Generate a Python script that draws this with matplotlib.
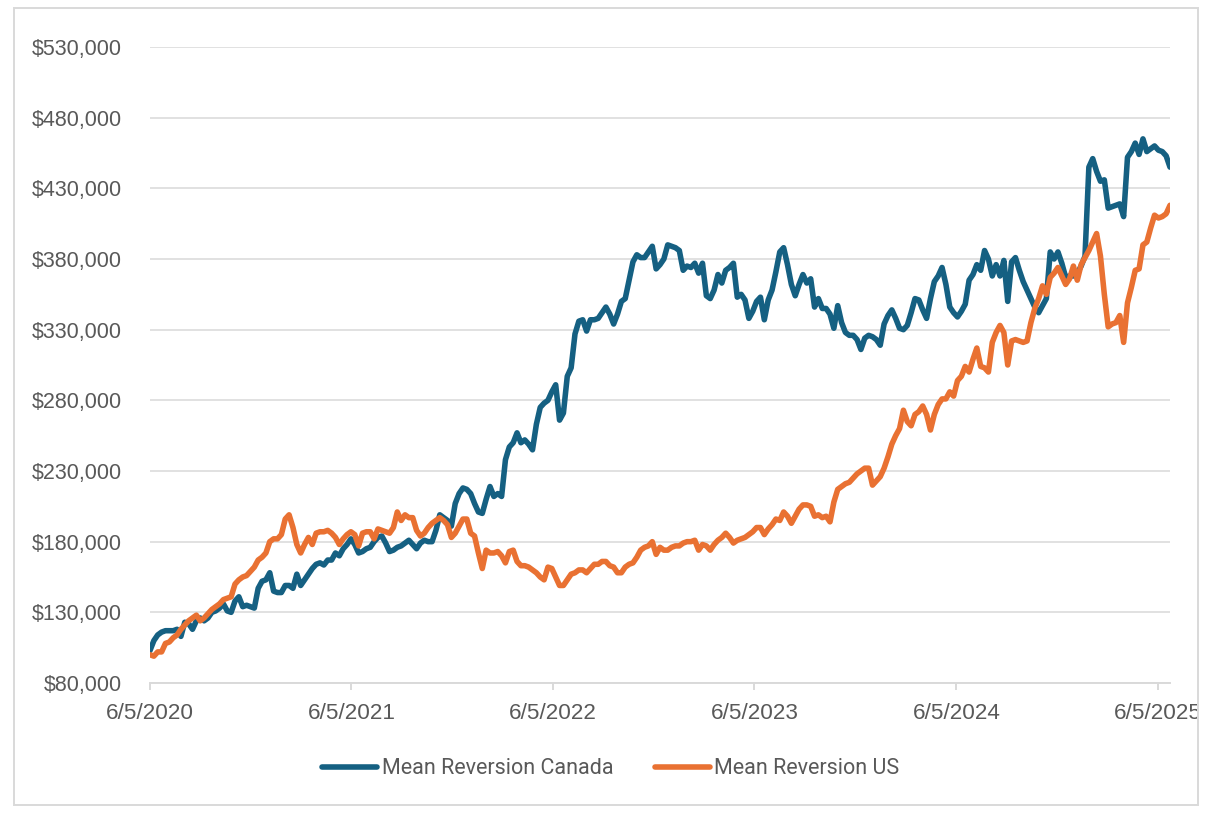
import matplotlib
matplotlib.use("Agg")
import matplotlib.pyplot as plt
from matplotlib.patches import Rectangle
from matplotlib.ticker import FuncFormatter
from matplotlib.transforms import Bbox, TransformedBbox
import pandas as pd
import numpy as np

# ---- data (weekly values, in thousands of dollars) ----
start_date = "2020-06-05"
series_names = ["Mean Reversion Canada", "Mean Reversion US"]

canada_k = [
    103, 110, 114, 116, 117, 117, 117, 118, 113, 123,
    122, 118, 124, 126, 124, 126, 130, 131, 133, 136,
    131, 130, 138, 141, 134, 135, 134, 133, 147, 152,
    153, 158, 145, 144, 144, 149, 149, 147, 157, 149,
    153, 157, 161, 164, 165, 163.5, 167, 167, 172, 170,
    175, 178, 182, 178, 172, 173, 175, 176, 180, 183,
    184, 179, 173, 174, 176, 177, 179, 181, 178, 175,
    179, 181, 180, 180, 188, 199, 197, 195, 191, 207,
    214, 218, 217, 214, 207, 201, 200, 210, 219, 212,
    214, 212, 238, 247, 250, 257, 250, 252, 249, 245,
    263, 275, 278, 280, 286, 291, 266, 271, 297, 303,
    327, 336, 337, 329, 337, 337, 338, 342, 346, 341,
    334, 341, 350, 352, 365, 378, 383, 381, 381, 385,
    389, 373, 376, 380, 390, 389, 388, 386, 372, 375,
    374, 377, 370, 377, 354, 352, 358, 369, 363, 372,
    374, 377, 353, 355, 351, 338, 343, 350, 353, 337,
    351, 358, 371, 385, 388, 376, 362, 354, 362, 369,
    363, 366, 346, 352, 345, 345, 341, 331, 347, 335,
    328, 326, 326, 323, 316, 324, 326, 325, 323, 319,
    334, 340, 344, 338, 331, 330, 333, 342, 352, 351,
    344, 338, 352, 364, 368, 374, 362, 346, 342, 339,
    343, 348, 365, 369, 376, 372, 386, 380, 368, 376,
    368, 379, 350, 378, 381, 372, 364, 358, 352, 346,
    342, 347, 352, 385, 380, 385, 377, 367, 368, 368,
    370, 375, 382, 445, 451, 442, 435, 436, 416, 417,
    418, 419, 410, 452, 456, 462, 454, 465, 456, 458,
    460, 457, 456, 453, 445,
]

us_k = [
    100, 99, 102, 102, 108, 109, 112, 114, 118, 121,
    124, 126, 128, 124, 126, 129, 132, 134, 136, 139,
    140, 141, 150, 153, 155, 156, 159, 162, 167, 169,
    172, 180, 182, 182, 185, 196, 199, 190, 178, 172,
    178, 183, 178, 186, 187, 187, 188, 186, 183, 178,
    182, 185, 187, 185, 177, 186, 187, 187, 182, 189,
    188, 187, 186, 190, 201, 195, 199, 197, 197, 188,
    184, 186, 190, 193, 195, 197, 195, 192, 183, 186,
    191, 196, 196, 186, 184, 172, 161, 174, 172, 172,
    173, 170, 165, 173, 174, 166, 163, 163, 162, 160,
    158, 155, 153, 162, 161, 155, 149, 149, 153, 157,
    158, 160, 160, 158, 161, 164, 164, 166, 166, 163,
    162, 158, 158, 162, 164, 165, 169, 174, 176, 177,
    180, 171, 176, 174, 174, 176, 177, 177, 179, 180,
    180, 181, 174, 178, 177, 174, 178, 181, 183, 186,
    183, 179, 181, 182, 183, 185, 187, 190, 190, 185,
    189, 192, 196, 195, 201, 198, 193, 198, 203, 206,
    206, 205, 198, 199, 197, 198, 194, 208, 217, 219,
    221, 222, 225, 228, 230, 232, 232, 220, 223, 226,
    232, 240, 249, 255, 260, 273, 265, 262, 270, 272,
    276, 270, 259, 270, 277, 281, 281, 286, 283, 294,
    297, 304, 300, 309, 317, 304, 303, 300, 321, 328,
    333, 328, 305, 322, 323, 322, 321, 322, 335, 345,
    352, 361, 355, 367, 370, 374, 368, 362, 366, 375,
    365, 376, 381, 386, 392, 398, 382, 355, 332, 334,
    335, 340, 321, 349, 360, 372, 373, 390, 392, 402,
    411, 409, 410, 412, 418,
]

y_ticks = [80000, 130000, 180000, 230000, 280000, 330000, 380000, 430000, 480000, 530000]
x_tick_dates = ["2020-06-05", "2021-06-05", "2022-06-05", "2023-06-05", "2024-06-05", "2025-06-05"]

# ---- build ----
dates = pd.date_range(start_date, periods=len(canada_k), freq="7D")
canada = np.array(canada_k) * 1000
us = np.array(us_k) * 1000

W, H = 1212, 814
fig = plt.figure(figsize=(W / 100, H / 100), dpi=100)
plt.rcParams["font.family"] = ["Liberation Sans", "DejaVu Sans"]
legend_family = ["Roboto", "Liberation Sans", "DejaVu Sans"]

ax = fig.add_axes([150 / W, 1 - 683 / H, (1170 - 150) / W, (683 - 47) / H])

blue = "#156082"
orange = "#E97132"
grid_c = "#D9D9D9"
text_c = "#595959"

ax.plot(dates, canada, color=blue, lw=4.0, solid_joinstyle="round",
        solid_capstyle="round", label=series_names[0], zorder=3)
ax.plot(dates, us, color=orange, lw=4.0, solid_joinstyle="round",
        solid_capstyle="round", label=series_names[1], zorder=4)

ax.set_ylim(y_ticks[0], y_ticks[-1])
ax.set_yticks(y_ticks)
ax.yaxis.set_major_formatter(FuncFormatter(lambda v, p: f"${int(v):,}"))
ax.set_xlim(dates[0], dates[-1])
xt = pd.to_datetime(x_tick_dates)
ax.set_xticks(xt)
ax.set_xticklabels([f"{d.month}/{d.day}/{d.year}" for d in xt])

ax.grid(axis="y", color=grid_c, lw=1.1, zorder=0)
ax.set_axisbelow(True)
for s in ["left", "top", "right"]:
    ax.spines[s].set_visible(False)
ax.spines["bottom"].set_color(grid_c)
ax.spines["bottom"].set_linewidth(1.4)
ax.spines["bottom"].set_zorder(1)

ax.tick_params(axis="y", length=0, pad=20, labelsize=15.5, labelcolor=text_c)
ax.tick_params(axis="x", length=5, width=1.4, color=grid_c, direction="out",
               pad=9.5, labelsize=16.2, labelcolor=text_c)

# chart border
bx0, by0, bx1, by1 = 14 / W, 1 - 805 / H, 1198 / W, 1 - 8 / H
fig.patches.append(Rectangle((bx0, by0), bx1 - bx0, by1 - by0, transform=fig.transFigure,
                             fill=False, edgecolor=grid_c, lw=1.4))
clipbox = TransformedBbox(Bbox([[bx0, by0], [bx1 - 1.5 / W, by1]]), fig.transFigure)
for lab in ax.get_xticklabels():
    lab.set_clip_on(True)
    lab.set_clip_box(clipbox)

leg = fig.legend(loc="center", bbox_to_anchor=(611 / W, 1 - 769 / H), ncol=2,
                 frameon=False, prop={"family": legend_family, "size": 15.5},
                 handlelength=2.55, handletextpad=0.2, columnspacing=1.95)
for t in leg.get_texts():
    t.set_color(text_c)
for h in leg.get_lines():
    h.set_linewidth(4.0)

fig.savefig("out.png", dpi=100)
